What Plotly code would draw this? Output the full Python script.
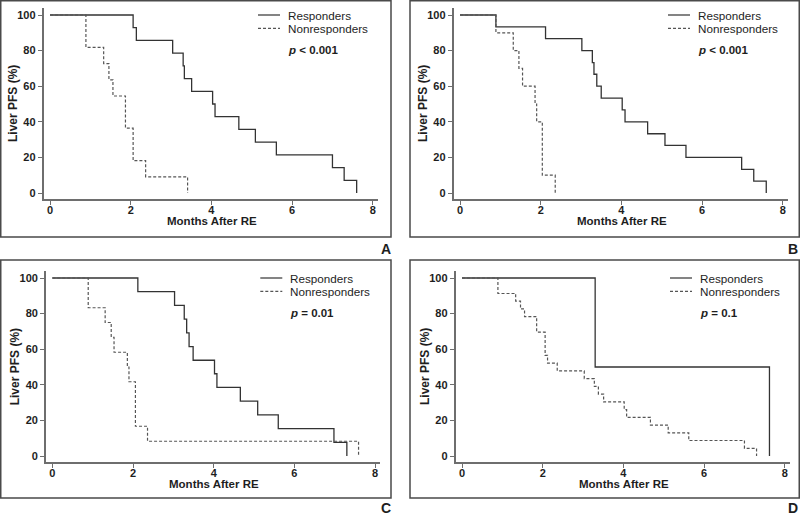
import plotly.graph_objects as go

# Kaplan-Meier step data (months after RE, liver PFS %)
A_RESP_MONTHS = [0, 2.06, 2.14, 3.04, 3.30, 3.33, 3.51, 4.03, 4.09, 4.68, 5.09, 5.61, 7.00, 7.29, 7.60]
A_RESP_PFS = [100, 92.9, 85.7, 78.6, 71.4, 64.3, 57.1, 50.0, 42.9, 35.7, 28.6, 21.4, 14.3, 7.1, 0]
A_NONRESP_MONTHS = [0, 0.89, 1.33, 1.46, 1.56, 1.87, 2.06, 2.37, 3.41]
A_NONRESP_PFS = [100, 81.8, 72.7, 63.6, 54.5, 36.4, 18.2, 9.1, 0]

B_RESP_MONTHS = [0, 0.89, 2.12, 3.02, 3.28, 3.32, 3.39, 3.50, 4.02, 4.09, 4.65, 5.08, 5.60, 6.98, 7.28, 7.59]
B_RESP_PFS = [100, 93.3, 86.7, 80.0, 73.3, 66.7, 60.0, 53.3, 46.7, 40.0, 33.3, 26.7, 20.0, 13.3, 6.7, 0]
B_NONRESP_MONTHS = [0, 0.89, 1.32, 1.46, 1.55, 1.86, 1.90, 2.04, 2.36]
B_NONRESP_PFS = [100, 90, 80, 70, 60, 50, 40, 10, 0]

C_RESP_MONTHS = [0, 2.12, 3.03, 3.27, 3.33, 3.39, 3.49, 4.02, 4.08, 4.66, 5.09, 5.60, 6.98, 7.30]
C_RESP_PFS = [100, 92.3, 84.6, 76.9, 69.2, 61.5, 53.8, 46.2, 38.5, 30.8, 23.1, 15.4, 7.7, 0]
C_NONRESP_MONTHS = [0, 0.89, 1.31, 1.46, 1.53, 1.86, 1.90, 2.06, 2.36, 7.59]
C_NONRESP_PFS = [100, 83.3, 75.0, 66.7, 58.3, 50.0, 41.7, 16.7, 8.3, 0]

D_RESP_MONTHS = [0, 3.30, 7.62]
D_RESP_PFS = [100, 50, 0]
D_NONRESP_MONTHS = [0, 0.89, 1.33, 1.45, 1.55, 1.85, 2.06, 2.12, 2.36, 3.03, 3.28, 3.38,
                    3.51, 4.02, 4.08, 4.67, 5.11, 5.62, 7.00, 7.30]
D_NONRESP_PFS = [100, 91.3, 87.0, 82.6, 78.3, 69.6, 56.5, 52.2, 47.8, 43.5, 39.1, 34.8,
                 30.4, 26.1, 21.7, 17.4, 13.0, 8.7, 4.3, 0]

PANEL_LABELS = ["A", "B", "C", "D"]
P_TEXTS = ["<i>p</i> < 0.001", "<i>p</i> < 0.001", "<i>p</i> = 0.01", "<i>p</i> = 0.1"]
SERIES_NAMES = ["Responders", "Nonresponders"]
X_TICKS = [0, 2, 4, 6, 8]
Y_TICKS = [0, 20, 40, 60, 80, 100]

W, H = 800, 516
FONT = "Liberation Sans, Arial, sans-serif"
INK = "#1e1e1e"
AXIS_GREY = "#6e6e6e"
FRAME_GREY = "#4a4a4a"
X_RANGE = [-0.16, 8.13]
Y_RANGE = [-3.3, 104]
PX_PER_MONTH = 40.35
PX_PER_PCT = 1.78

# pixel layout per panel: origin (month 0, 100 %), frame box, letter position
panels = [
    {"ox": 50.0, "oy": 15.0, "frame": (0.75, 391, 0.75, 237), "letter": (385.5, 249)},
    {"ox": 460.0, "oy": 15.0, "frame": (410, 799.25, 0.75, 237), "letter": (792.5, 249)},
    {"ox": 52.3, "oy": 278.0, "frame": (0.75, 391, 260, 498), "letter": (385.5, 508)},
    {"ox": 462.0, "oy": 278.0, "frame": (410, 799.25, 260, 498), "letter": (792.5, 508)},
]
series = [
    (A_RESP_MONTHS, A_RESP_PFS, A_NONRESP_MONTHS, A_NONRESP_PFS),
    (B_RESP_MONTHS, B_RESP_PFS, B_NONRESP_MONTHS, B_NONRESP_PFS),
    (C_RESP_MONTHS, C_RESP_PFS, C_NONRESP_MONTHS, C_NONRESP_PFS),
    (D_RESP_MONTHS, D_RESP_PFS, D_NONRESP_MONTHS, D_NONRESP_PFS),
]


def px_x(p):
    return p / W


def px_y(p):
    return 1 - p / H


def label(text, x, y, size, **kw):
    return dict(text=text, xref="paper", yref="paper", x=px_x(x), y=px_y(y),
                xanchor=kw.pop("xanchor", "center"), yanchor="middle", showarrow=False,
                font={"family": FONT, "size": size, "color": INK}, **kw)


fig = go.Figure()
shapes = []
annotations = []

for i, (panel, data) in enumerate(zip(panels, series)):
    n = "" if i == 0 else str(i + 1)
    ox, oy = panel["ox"], panel["oy"]
    left = ox + X_RANGE[0] * PX_PER_MONTH
    right = ox + X_RANGE[1] * PX_PER_MONTH
    top = oy - (Y_RANGE[1] - 100) * PX_PER_PCT
    bottom = oy + (100 - Y_RANGE[0]) * PX_PER_PCT

    resp_x, resp_y, non_x, non_y = data
    fig.add_trace(go.Scatter(
        x=resp_x, y=resp_y, mode="lines", line_shape="hv",
        line={"color": "#333333", "width": 1.3},
        xaxis="x" + n, yaxis="y" + n, showlegend=False, hoverinfo="skip",
    ))
    fig.add_trace(go.Scatter(
        x=non_x, y=non_y, mode="lines", line_shape="hv",
        line={"color": "#555555", "width": 1.2, "dash": "3px,2px"},
        xaxis="x" + n, yaxis="y" + n, showlegend=False, hoverinfo="skip",
    ))

    axis_common = dict(
        showgrid=False, zeroline=False, showline=True, linecolor=AXIS_GREY, linewidth=1.5,
        ticks="outside", ticklen=4, tickwidth=1.2, tickcolor=AXIS_GREY,
        tickfont={"family": FONT, "size": 11, "color": INK, "weight": "bold"},
    )
    fig.update_layout({
        "xaxis" + n: dict(
            axis_common, domain=[px_x(left), px_x(right)], range=X_RANGE,
            tickvals=X_TICKS, anchor="y" + n, ticklabelstandoff=-4,
        ),
        "yaxis" + n: dict(
            axis_common, domain=[px_y(bottom), px_y(top)], range=Y_RANGE,
            tickvals=Y_TICKS, anchor="x" + n,
        ),
    })

    # panel frame
    fl, fr, ft, fb = panel["frame"]
    shapes.append(dict(type="rect", xref="paper", yref="paper",
                       x0=px_x(fl), x1=px_x(fr), y0=px_y(fb), y1=px_y(ft),
                       line={"color": FRAME_GREY, "width": 1.5}))

    # axis titles
    annotations.append(label("<b>Liver PFS (%)</b>", ox - 37, oy + 89, 12, textangle=-90))
    annotations.append(label("<b>Months After RE</b>", ox + 161.5, oy + 206, 11.5))

    # in-panel legend
    for k, name in enumerate(SERIES_NAMES):
        ly = oy + k * 13.3
        shapes.append(dict(type="line", xref="paper", yref="paper",
                           x0=px_x(ox + 208), x1=px_x(ox + 230), y0=px_y(ly), y1=px_y(ly),
                           line={"color": "#333333" if k == 0 else "#555555", "width": 1.2,
                                 "dash": "solid" if k == 0 else "3px,2px"}))
        annotations.append(label(name, ox + 236, ly, 11.7, xanchor="left"))
    annotations.append(label("<b>" + P_TEXTS[i] + "</b>", ox + 236, oy + 35, 11.5, xanchor="left"))

    # panel letter
    lx, ly = panel["letter"]
    annotations.append(label("<b>" + PANEL_LABELS[i] + "</b>", lx, ly, 14))

fig.update_layout(
    width=W, height=H,
    margin={"l": 0, "r": 0, "t": 0, "b": 0},
    paper_bgcolor="#FFFFFF", plot_bgcolor="#FFFFFF",
    shapes=shapes, annotations=annotations,
    font={"family": FONT, "color": INK},
)

fig.write_html("out.html", config={"displayModeBar": False},
               post_script="document.body.style.margin = '0';")
